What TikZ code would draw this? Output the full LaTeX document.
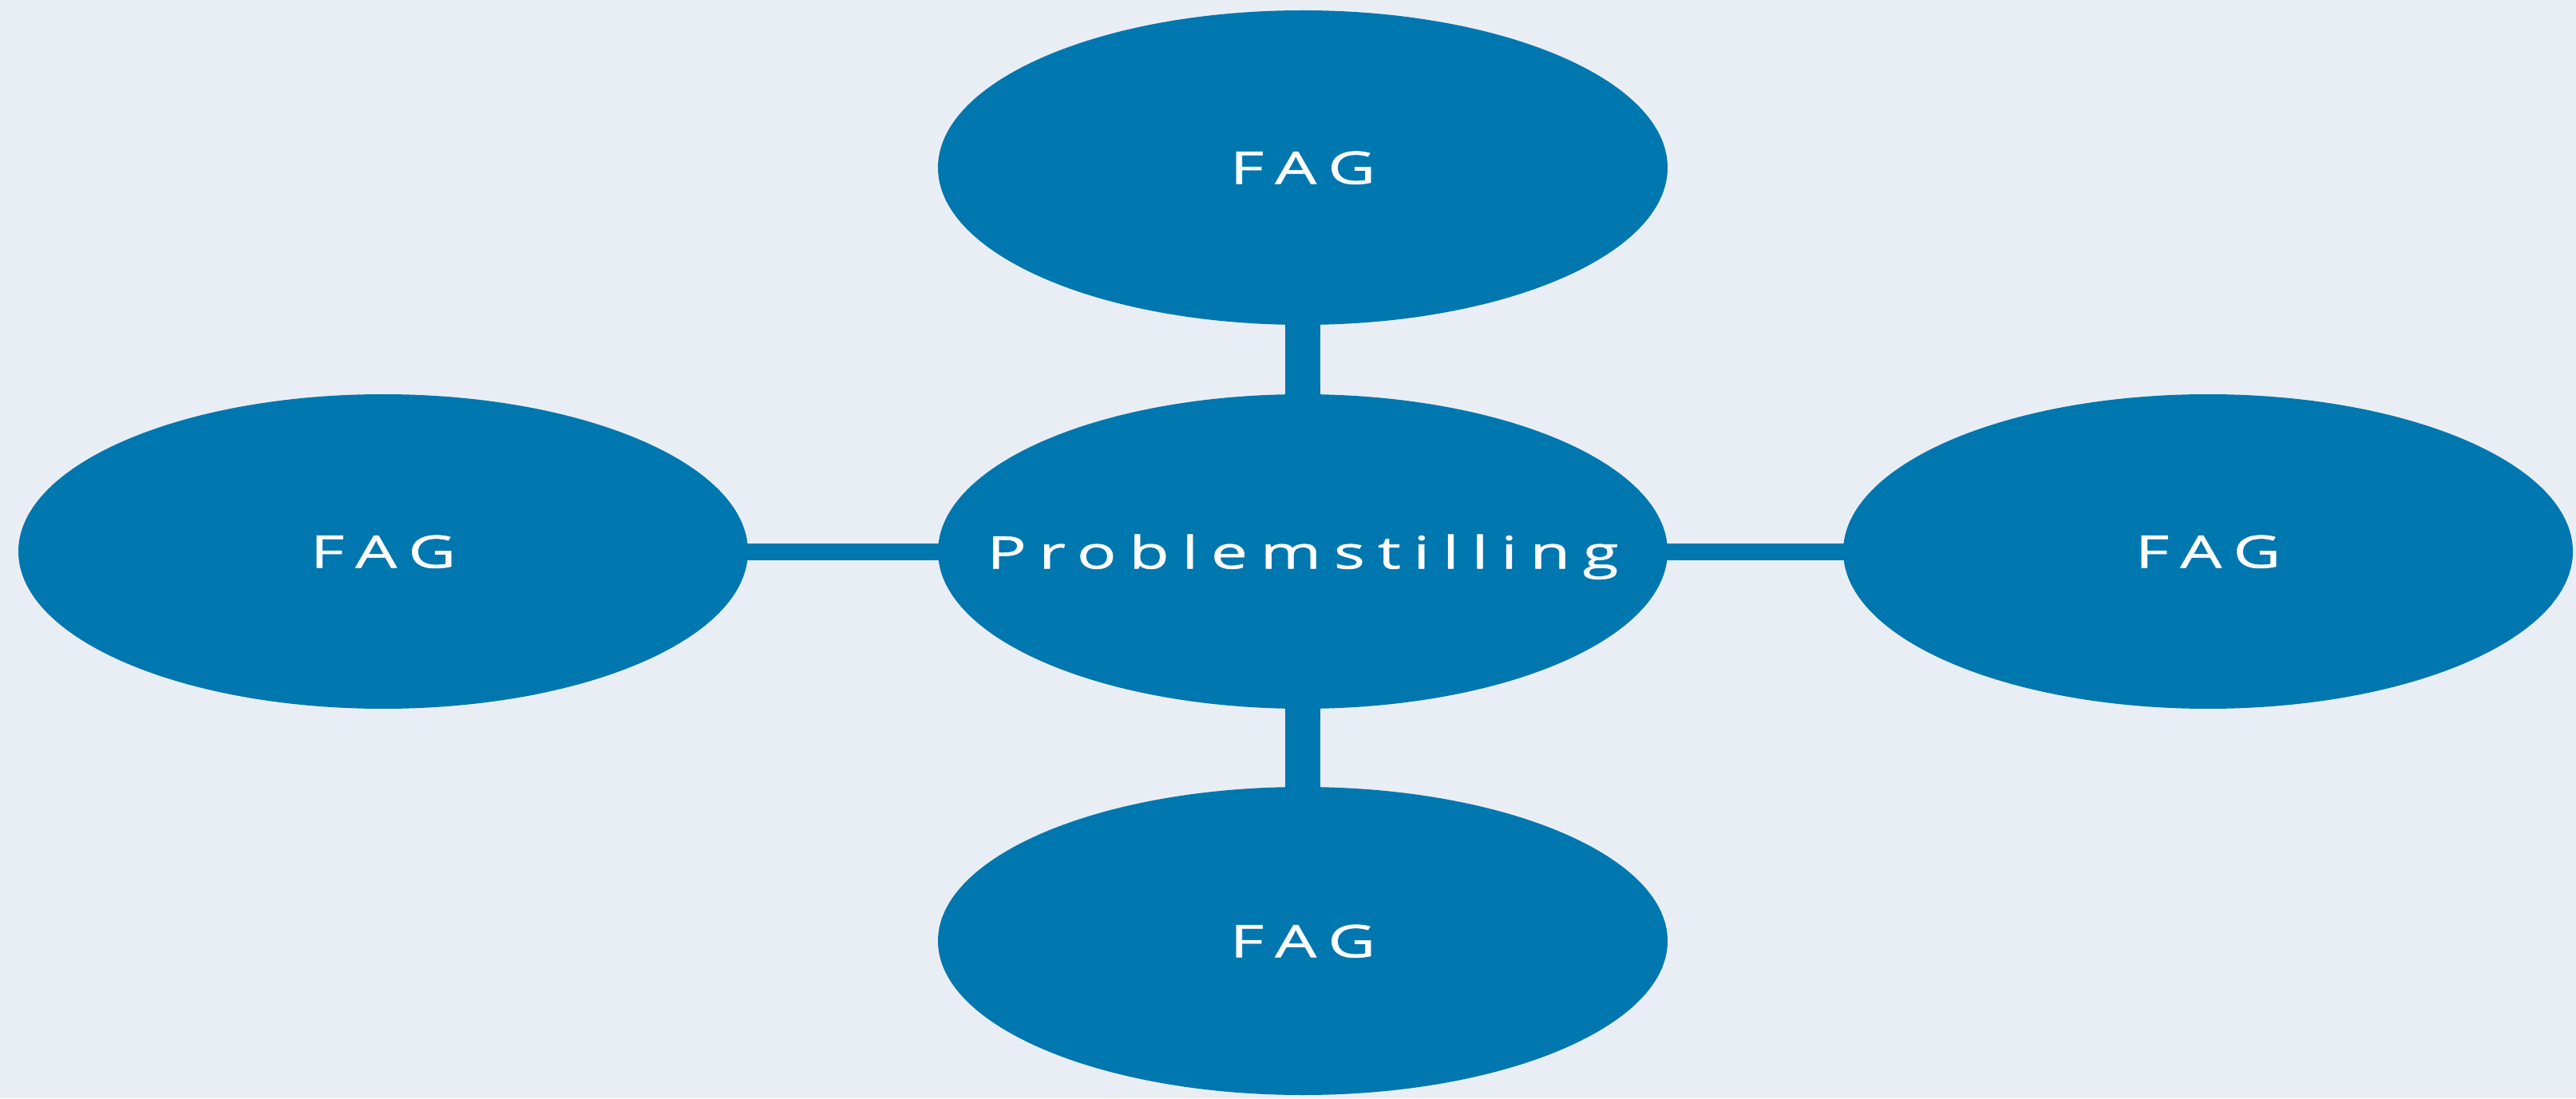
\documentclass[tikz,border=0pt]{standalone}
\usepackage{fontspec}
\usetikzlibrary{shapes.geometric}
\setmainfont{Open Sans}
\newfontfamily\fagfont[FakeStretch=1.46,LetterSpace=28,FakeBold=1]{Open Sans}
\definecolor{fagblue}{RGB}{0,119,174}
\definecolor{bgpale}{RGB}{233,238,245}

\begin{document}
\begin{tikzpicture}[fag/.style={ellipse,fill=fagblue,text=white,inner ysep=0pt,inner xsep=-2cm,text depth=0pt,minimum width=9.14cm,minimum height=3.94cm,font=\fagfont\fontsize{16}{19}\selectfont},
  bar/.style={draw=fagblue,shorten <=-3pt,shorten >=-3pt}]
   \fill[bgpale] (0,0) rectangle (32.27,13.76);
   \useasboundingbox (0,0) rectangle (32.27,13.76);

   \node[fag] (p) at (16.32,6.85) {Problemstilling};
   \node[fag] (f1) at (16.32,11.66) {FAG};
   \node[fag,minimum height=3.86cm] (f2) at (16.32,1.97) {FAG};
   \node[fag] (f3) at (4.80,6.85) {FAG};
   \node[fag] (f4) at (27.66,6.85) {FAG};

   \path (f1) edge[bar,line width=0.44cm] (p);
   \path (p) edge[bar,line width=0.44cm] (f2);
   \path (f3) edge[bar,line width=0.21cm] (p);
   \path (p) edge[bar,line width=0.21cm] (f4);

\end{tikzpicture}
\end{document}
